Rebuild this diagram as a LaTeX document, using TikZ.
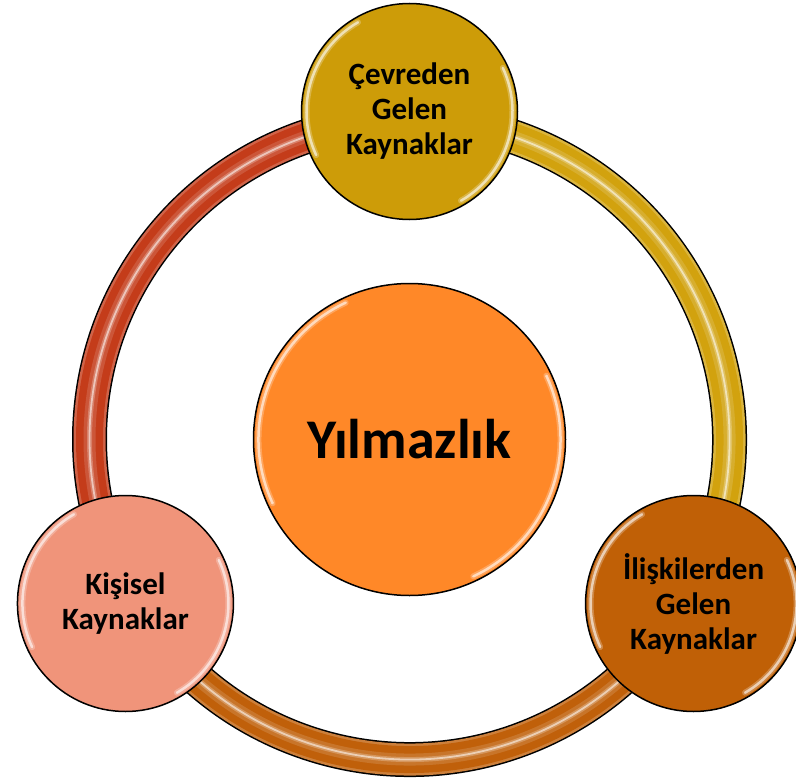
\documentclass[tikz,border=0pt]{standalone}
\usepackage{fontspec}
\setmainfont{Carlito}
\usetikzlibrary{backgrounds,calc}
\definecolor{cTop}{RGB}{205,156,8}
\definecolor{cLeft}{RGB}{240,148,122}
\definecolor{cRight}{RGB}{192,96,6}
\definecolor{cMid}{RGB}{255,136,40}
\definecolor{sRed}{RGB}{196,60,26}
\definecolor{sGold}{RGB}{210,162,14}
\definecolor{sBrown}{RGB}{192,96,10}
% #1 start node, #2 start angle, #3 end angle, #4 colour
\newcommand\ringseg[4]{%
  \coordinate (s) at ($(#1.center)!8pt!(mid.center)$);
  \draw[line width=35pt, black] (s) arc[start angle=#2,end angle=#3,radius=320];
  \draw[line width=32pt, #4!80!white] (s) arc[start angle=#2,end angle=#3,radius=320];
  \draw[line width=27pt, #4] (s) arc[start angle=#2,end angle=#3,radius=320];
  \draw[line width=12pt, #4!70!white, opacity=.45] (s) arc[start angle=#2,end angle=#3,radius=320];
  \draw[line width=5pt, #4!40!white, opacity=.45] (s) arc[start angle=#2,end angle=#3,radius=320];
  \draw[line width=1.8pt, white, opacity=.55] (s) arc[start angle=#2,end angle=#3,radius=320];
}
\newcommand\glowarc[4]{%
  \draw[white, line width=6pt, opacity=.25, line cap=round] (#1.center) ++(#2:#4) arc[start angle=#2,end angle=#3,radius=#4];
  \draw[white, line width=2.5pt, opacity=.6, line cap=round] (#1.center) ++(#2:#4) arc[start angle=#2,end angle=#3,radius=#4];
}
\begin{document}
\begin{tikzpicture}[x=1pt,y=1pt,
  sat/.style={circle, draw=black, line width=1.5pt, minimum size=216pt, inner sep=0pt,
    align=center, font=\bfseries\fontsize{31}{35}\selectfont},
  hub/.style={circle, draw=black, line width=1.5pt, minimum size=312pt, inner sep=0pt,
    font=\bfseries\fontsize{56}{60}\selectfont}]
\useasboundingbox (0,0) rectangle (796,-779);
\coordinate (O) at (409.5,-439.5);
\node[hub, fill=cMid] (mid) at (O) {Yılmazlık};
\node[sat, fill=cTop] (top) at ($(O)+(90:328)$) {Çevreden\\Gelen\\Kaynaklar};
\node[sat, fill=cLeft] (left) at ($(O)+(210:328)$) {Kişisel\\Kaynaklar};
\node[sat, fill=cRight] (right) at ($(O)+(330:328)$) {İlişkilerden\\Gelen\\Kaynaklar};
\glowarc{mid}{115}{205}{151}
\glowarc{mid}{295}{385}{151}
\glowarc{top}{120}{205}{103}
\glowarc{top}{300}{385}{103}
\glowarc{left}{120}{205}{103}
\glowarc{left}{300}{385}{103}
\glowarc{right}{120}{205}{103}
\glowarc{right}{300}{385}{103}
\begin{pgfonlayer}{background}
  \fill[white] (0,0) rectangle (796,-779);
  \ringseg{top}{90}{210}{sRed}
  \ringseg{left}{210}{330}{sBrown}
  \ringseg{right}{-30}{90}{sGold}
\end{pgfonlayer}
\end{tikzpicture}
\end{document}
